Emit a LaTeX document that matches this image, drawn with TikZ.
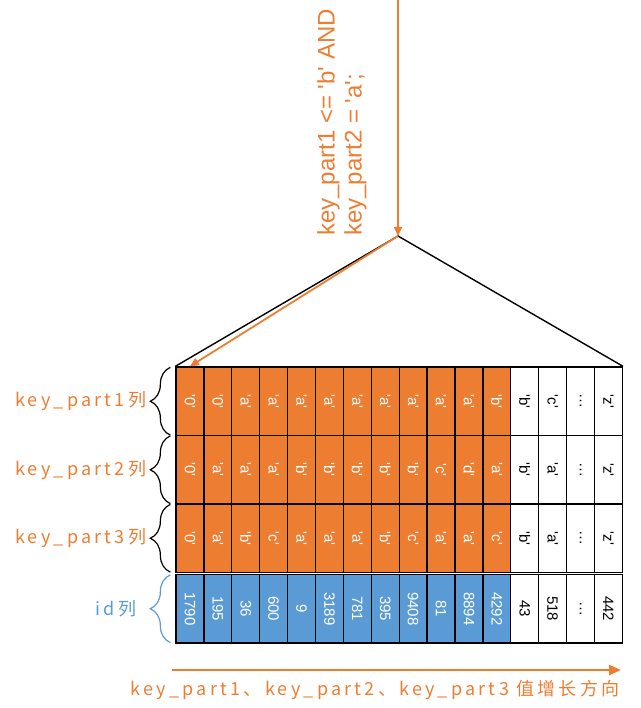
\documentclass[tikz,border=0pt]{standalone}
\usepackage{fontspec}
\usepackage{graphicx}
\usetikzlibrary{positioning,arrows.meta,decorations.pathreplacing}
\newfontfamily\cellfont{Liberation Sans}
\newfontfamily\lblfont{Noto Sans CJK SC}[LetterSpace=18]
\definecolor{keyC}{HTML}{ED7D31}
\definecolor{idC}{HTML}{5B9BD5}
\tikzset{
  cellbox/.style={draw, line width=1.3pt, minimum width=27.9pt, minimum height=68.5pt,
                  inner sep=0pt, font=\cellfont\fontsize{15}{15}\selectfont},
  keyfull/.style={cellbox, fill=keyC, text=white},
  idfull/.style={cellbox, fill=idC, text=white},
  freecell/.style={cellbox, fill=white, text=black},
  kcell/.code={\ifnum#1<13 \tikzset{keyfull}\else\tikzset{freecell}\fi},
  icell/.code={\ifnum#1<13 \tikzset{idfull}\else\tikzset{freecell}\fi},
  collbl/.style={font=\lblfont\fontsize{18}{18}\selectfont, text=keyC, inner sep=0pt},
  qtxt/.style={font=\cellfont\fontsize{24}{27}\selectfont, text=keyC, align=left, inner sep=0pt},
  brc/.style={decorate, decoration={brace, amplitude=20pt}, line width=1.2pt},
  qarrow/.style={-{Triangle[length=9pt,width=8pt]}, draw=keyC, line width=1.8pt},
  dirarrow/.style={-{Triangle[length=12pt,width=10pt]}, draw=keyC, line width=2.5pt},
  fan/.style={line width=1.4pt},
}

\begin{document}
\begin{tikzpicture}[x=1pt,y=-1pt]
\useasboundingbox (0,0) rectangle (640,708);

% index entries, one column per record
\foreach \v [count=\i] in {'0','0','a','a','a','a','a','a','a','a','a','b','b','c',\dots,'z'}
  \node[kcell=\i] (k1-\i) at ({176+(\i-0.5)*27.9},401.25) {\rotatebox{-90}{\v}};
\foreach \v [count=\i] in {'0','a','a','a','b','b','b','b','b','c','d','a','b','a',\dots,'z'}
  \node[kcell=\i] (k2-\i) at ({176+(\i-0.5)*27.9},469.75) {\rotatebox{-90}{\v}};
\foreach \v [count=\i] in {'0','a','b','c','a','a','a','b','c','a','a','c','b','a',\dots,'z'}
  \node[kcell=\i] (k3-\i) at ({176+(\i-0.5)*27.9},538.25) {\rotatebox{-90}{\v}};
\foreach \v [count=\i] in {1790,195,36,600,9,3189,781,395,9408,81,8894,4292,43,518,\dots,442}
  \node[icell=\i] (id-\i) at ({176+(\i-0.5)*27.9},608.75) {\rotatebox{-90}{\v}};

% column labels
\node[collbl, left=29pt of k1-1] (lk1) {key\_part1列};
\node[collbl, left=29pt of k2-1] (lk2) {key\_part2列};
\node[collbl, left=29pt of k3-1] (lk3) {key\_part3列};
\node[collbl, text=idC, left=39pt of id-1] (lid) {id列};
\draw[brc] ([xshift=-5pt,yshift=1pt]k1-1.south west) -- ([xshift=-5pt,yshift=-1pt]k1-1.north west);
\draw[brc] ([xshift=-5pt,yshift=1pt]k2-1.south west) -- ([xshift=-5pt,yshift=-1pt]k2-1.north west);
\draw[brc] ([xshift=-5pt,yshift=1pt]k3-1.south west) -- ([xshift=-5pt,yshift=-1pt]k3-1.north west);
\draw[brc, draw=idC] ([xshift=-5pt,yshift=1pt]id-1.south west) -- ([xshift=-5pt,yshift=-1pt]id-1.north west);

% the query and where it lands
\coordinate (qtop) at (398,0);
\coordinate (apex) at (398,236);
\node[qtxt, rotate=90, anchor=north west] (query) at (317,236) {key\_part1 <= 'b' AND\\key\_part2 = 'a';};
\draw[qarrow] (qtop) -- (apex);
\draw[fan] (k1-1.north west) -- (apex) -- (k1-16.north east);
\draw[qarrow] (apex) -- (k1-1.north);

% growth direction
\coordinate (dirL) at (172,670);
\coordinate (dirR) at (621,670);
\draw[dirarrow] (dirL) -- (dirR);
\node[collbl] (dirlbl) at (375,690) {key\_part1、key\_part2、key\_part3 值增长方向};
\end{tikzpicture}
\end{document}
